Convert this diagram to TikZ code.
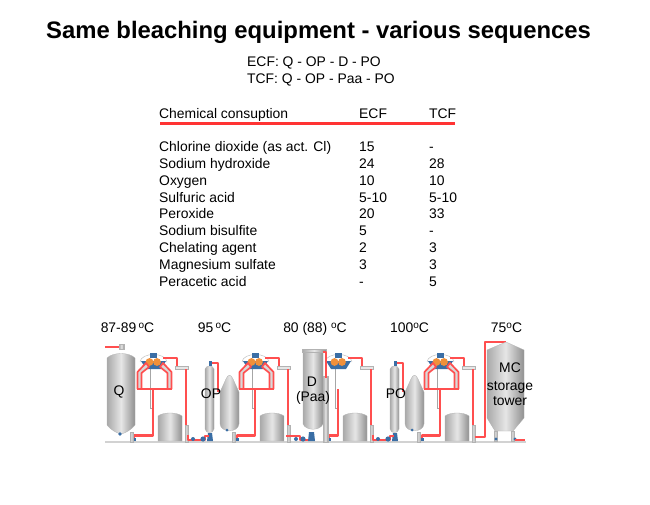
\documentclass[tikz,border=0pt]{standalone}
\usepackage{fontspec}
\setmainfont{Liberation Sans}
\definecolor{pipered}{HTML}{FF4F4F}
\definecolor{rulered}{HTML}{FF3333}
\definecolor{pumpblue}{HTML}{3A6EA5}
\definecolor{rollorange}{HTML}{F0903A}
\definecolor{steel}{HTML}{A9A9A9}
\definecolor{steellight}{HTML}{E6E6E6}
\newcommand{\degsign}{\raisebox{.45ex}{\fontsize{10}{10}\selectfont o}}
\tikzset{
 txt/.style={anchor=base west,inner sep=0pt,font=\fontsize{13.9}{16}\selectfont},
 head/.style={txt,font=\fontsize{23.85}{26}\bfseries\selectfont},
 lbl/.style={anchor=base,inner sep=0pt,font=\fontsize{13.9}{16}\selectfont},
 pipe/.style={draw=pipered,line width=2.2pt,line join=round},
 vessel/.style={left color=steel,right color=steel!85!black,middle color=steellight,draw=gray!60,line width=.3pt},
 thin grey/.style={draw=gray!70,line width=1pt},
 pump/.style={fill=pumpblue,draw=none},
 framearm/.style={fill=gray!30,draw=pipered,line width=1.7pt,line join=round},
 pics/washer/.style={code={
 % hood, rolls and drop leg
 \draw[thin grey] (150,368) -- (150,408) -- (153,408);
 \draw[draw=gray!50,fill=white,line width=.5pt] (140,362) .. controls (141,352) and (166,352) .. (167,362);
 \fill[pump] (141,361) -- (166,361) -- (161,369) -- (146,369) -- cycle;
 \fill[pump] (150,353) rectangle (157,358);
 \fill[rollorange] (149.5,362) circle (3.9);
 \fill[rollorange] (157,362) circle (3.9);
 % filtrate tank
 \path[vessel] (158,441) -- (158,416) .. controls (163,412) and (177,412) .. (182,416) -- (182,441) -- cycle;
 % outlet pipe with head box
 \draw[pipe] (163,358) -- (177,358) -- (177,367);
 \draw[draw=gray!60,fill=steellight,line width=.4pt] (175,366) rectangle (188,369.5);
 \draw[pipe] (186,369) -- (186,426);
 \path[vessel] (185,425) rectangle (188,442);
 }},
 pics/pressframe/.style={code={
 \draw[framearm] (137.5,389) -- (137.5,372) -- (146,363) -- (149,367) -- (141.5,373) -- (141.5,389);
 \draw[framearm] (171.5,389) -- (171.5,372) -- (163,363) -- (160,367) -- (167.5,373) -- (167.5,389);
 \draw[pipe,line width=2.4pt] (137,389) -- (172,389);
 }},
 pics/slimtower/.style={code={
 % oxygen reactor and its blow tank
 \path[vessel] (205,369) .. controls (206,365) and (213,365) .. (214,369) -- (214,429) .. controls (213,434) and (206,434) .. (205,429) -- cycle;
 \fill[pump] (209,361) rectangle (212,366);
 \fill[pump] (208,433) -- (212,433) -- (213,441) -- (207,441) -- cycle;
 \draw[pipe] (212,363) -- (218,363) -- (218,392);
 \path[vessel] (220,392) -- (226,379) .. controls (228,374) and (231,374) .. (233,379) -- (239,392) -- (239,424) .. controls (238,433) and (221,433) .. (220,424) -- cycle;
 \path[vessel] (232,432) rectangle (235,442);
 \fill[pump] (227,430) circle (1.5);
 }},
}
\begin{document}
\begin{tikzpicture}[x=1pt,y=-1pt]
 \useasboundingbox (0,0) rectangle (650,505);
 \node[head] (title) at (46,39) {Same bleaching equipment - various sequences};
 \node[txt] (ecf) at (247,66.5) {ECF: Q - OP - D - PO};
 \node[txt] (tcf) at (247,83.5) {TCF: Q - OP - Paa - PO};

 \node[txt] (hchem) at (159,118.7) {Chemical consuption};
 \node[txt] (hecf) at (359,118.7) {ECF};
 \node[txt] (htcf) at (429,118.7) {TCF};
 \draw[rulered,line width=3.4pt] (160,123.5) -- (455,123.5);

 \foreach \name/\ecfval/\tcfval [count=\row from 0] in {
 Chlorine dioxide (as act. Cl)/15/-,
 Sodium hydroxide/24/28,
 Oxygen/10/10,
 Sulfuric acid/5-10/5-10,
 Peroxide/20/33,
 Sodium bisulfite/5/-,
 Chelating agent/2/3,
 Magnesium sulfate/3/3,
 Peracetic acid/-/5}
 {
 \node[txt] (chem\row) at (159,151.6+16.8*\row) {\name};
 \node[txt] (ecf\row) at (359,151.6+16.8*\row) {\ecfval};
 \node[txt] (tcf\row) at (429,151.6+16.8*\row) {\tcfval};
 }

 \node[lbl] (t1) at (127.5,332) {87-89\,\degsign C};
 \node[lbl] (t2) at (214.5,332) {95\,\degsign C};
 \node[lbl] (t3) at (315,332) {80 (88) \degsign C};
 \node[lbl] (t4) at (409.5,332) {100\degsign C};
 \node[lbl] (t5) at (506.5,332) {75\degsign C};

 % floor
 \draw[draw=gray!35,line width=1.6pt] (105,442) -- (526,442);

 % Q tower
 \draw[pipe] (105,347) -- (120,347);
 \path[vessel] (119,344) rectangle (124,349);
 \path[vessel] (107,358) .. controls (113,352) and (129,352) .. (135,358) -- (135,425) .. controls (130,431) and (125,433) .. (121,434) .. controls (117,433) and (112,431) .. (107,425) -- cycle;
 \fill[pump] (120,434) circle (1.8);

 % washers
 \foreach \dx in {0,102,185,287}
 \pic at (\dx,0) {washer};
 \foreach \dx in {0,102,287}
 \pic at (\dx,0) {pressframe};
 \foreach \dx/\xend in {0/134,102/237,185/329,287/422}
 {
 \draw[pipe] (\dx+153,389) -- (\dx+153,435.5) -- (\xend,435.5) -- (\xend,440);
 \fill[pump] (\xend-1.5,438) rectangle (\xend+2,441);
 }
 \path[vessel] (130,432) rectangle (133,442);

 % pumps between stages
 \foreach \dx in {0,185}
 {
 \pic at (\dx,0) {slimtower};
 \draw[pipe] (\dx+188,435) -- (\dx+188,440) -- (\dx+205,440) -- (\dx+205,436) -- (\dx+209,436);
 \fill[pump] (\dx+193,439) circle (2);
 \fill[pump] (\dx+203,439) circle (2.6);
 }

 % D tower
 \draw[pipe] (286,436) -- (300,436) -- (300,440) -- (309,440);
 \fill[pump] (296,439) circle (2);
 \fill[pump] (303,439) circle (2.6);
 \path[vessel] (303,352) -- (323,352) -- (323,424) .. controls (320,431) and (306,431) .. (303,424) -- cycle;
 \path[vessel] (302,349) rectangle (326,352);
 \fill[pump] (309,432) -- (314,432) -- (315,441) -- (308,441) -- cycle;
 \path[vessel] (323,376) rectangle (328,442);
 \draw[pipe] (323,352) -- (326,352) -- (326,378);

 % MC tower
 \draw[pipe] (475,437) -- (485,437) -- (485,342) -- (506,342);
 \path[vessel] (487,350) -- (506,342) -- (524,350) -- (524,418) -- (513,431) -- (495,431) -- (487,418) -- cycle;
 \path[vessel] (494,431) rectangle (497,441);
 \path[vessel] (511,431) rectangle (514,441);
 \fill[pump] (496,439) circle (1.6);
 \fill[pump] (515,439) circle (1.6);
 \draw[pipe] (515,440) -- (525,440);

 % vessel labels
 \node[lbl] (q) at (119,395) {Q};
 \node[lbl] (op) at (211,398) {OP};
 \node[lbl] (d) at (312,386) {D};
 \node[lbl] (paa) at (313,401) {(Paa)};
 \node[lbl] (po) at (396,398) {PO};
 \node[lbl] (mc) at (510,372) {MC};
 \node[lbl] (sto) at (510,390) {storage};
 \node[lbl] (tow) at (510,405) {tower};
\end{tikzpicture}
\end{document}
